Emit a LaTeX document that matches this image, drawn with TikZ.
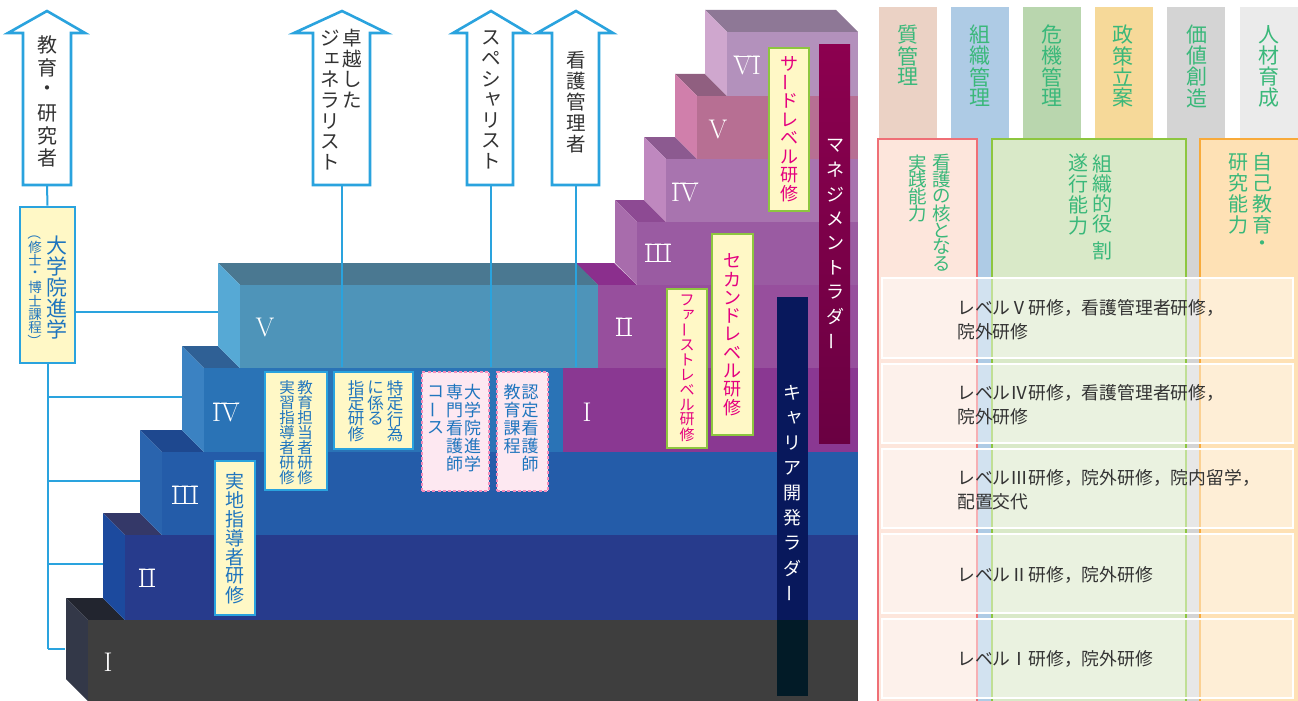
\documentclass[tikz,border=0pt]{standalone}
\usepackage{fontspec}
\usepackage{graphicx}
\newfontfamily\jp{Noto Sans CJK JP}
% colours
\definecolor{abl}{HTML}{2AA3DE}
\definecolor{tdark}{HTML}{333333}
\definecolor{yfill}{HTML}{FFF8C6}
\definecolor{gbor}{HTML}{8DC63F}
\definecolor{mag}{HTML}{E4007F}
\definecolor{btxt}{HTML}{1F75BE}
\definecolor{pdash}{HTML}{F28DBB}
\definecolor{pfill}{HTML}{FDE8F1}
\definecolor{jgreen}{HTML}{3AB87A}
\definecolor{hq}{HTML}{EBD2C5}
\definecolor{ho}{HTML}{AECBE5}
\definecolor{hr}{HTML}{B9D6AE}
\definecolor{hp}{HTML}{F6D999}
\definecolor{hv}{HTML}{D4D4D4}
\definecolor{hh}{HTML}{EBEBEB}
\definecolor{pkb}{HTML}{EF6F76}
\definecolor{pkf}{HTML}{FDE6DC}
\definecolor{grb}{HTML}{8DC63F}
\definecolor{grf}{HTML}{D9E9C8}
\definecolor{orb}{HTML}{F8AA3A}
\definecolor{orf}{HTML}{FEE1B5}
\definecolor{b5t}{HTML}{4A7891}\definecolor{b5s}{HTML}{56A9D5}\definecolor{b5f}{HTML}{4E94B9}
\definecolor{b4t}{HTML}{2F6095}\definecolor{b4s}{HTML}{3B82C2}\definecolor{b4f}{HTML}{2A73B6}
\definecolor{b3t}{HTML}{1E488F}\definecolor{b3s}{HTML}{2A64AE}\definecolor{b3f}{HTML}{245CA9}
\definecolor{b2t}{HTML}{343868}\definecolor{b2s}{HTML}{1C4A9E}\definecolor{b2f}{HTML}{273B8C}
\definecolor{b1t}{HTML}{22252F}\definecolor{b1s}{HTML}{333848}\definecolor{b1f}{HTML}{3E3E3E}
\definecolor{p6t}{HTML}{8E7896}\definecolor{p6s}{HTML}{CFA7CE}\definecolor{p6f}{HTML}{B391BC}
\definecolor{p5t}{HTML}{905F80}\definecolor{p5s}{HTML}{D07FAB}\definecolor{p5f}{HTML}{B76F93}
\definecolor{p4t}{HTML}{8C5A90}\definecolor{p4s}{HTML}{BF88BF}\definecolor{p4f}{HTML}{A874AF}
\definecolor{p3t}{HTML}{8D4A93}\definecolor{p3s}{HTML}{A86CAC}\definecolor{p3f}{HTML}{9A5BA2}
\definecolor{p2t}{HTML}{8B2F8D}\definecolor{p2f}{HTML}{974F9D}
\definecolor{p1f}{HTML}{8A3892}
\definecolor{mbt}{HTML}{8C004F}\definecolor{mbb}{HTML}{6A0042}
\definecolor{cbar}{HTML}{08185C}\definecolor{cbarb}{HTML}{021B27}

% vertical text
\newlength\vtpitch
\makeatletter
\newcommand\vt[2]{\vtop{\offinterlineskip\setlength\vtpitch{#1}\vt@a#2\relax}}
\def\vt@a#1{\ifx#1\relax\expandafter\@gobble\else\expandafter\vt@b\fi{#1}}
\def\vt@b#1{\ifx#1\VG\kern7pt\else\vt@c{#1}\fi\vt@a}
\newcommand\vt@c[1]{\hbox to 1em{\hss\vbox to\vtpitch{\vss\hbox{#1}\vss}\hss}}
\makeatother
\newcommand\VG{VG}
\newcommand\VL{\rotatebox[origin=c]{90}{ー}}
\newcommand\VPO{\rotatebox[origin=c]{-90}{（}}
\newcommand\VPC{\rotatebox[origin=c]{-90}{）}}
\newcommand\SKb[1]{\kern0.22em\raisebox{0.04em}{#1}}
\newcommand\SmYa{\SKb{ャ}}
\newcommand\SmE{\SKb{ェ}}
\newcommand\SmA{\SKb{ァ}}

% roman numerals with joined serifs
\newlength\rnw
\newcommand\RNtb[1]{\setbox0=\hbox{#1}\setlength\rnw{\wd0}\addtolength\rnw{-0.06em}%
  \kern0.03em\rlap{\rule{\rnw}{0.04em}}\rlap{\raisebox{\dimexpr\ht0-0.04em}{\rule{\rnw}{0.04em}}}\kern-0.03em\box0}
\newcommand\RNt[1]{\setbox0=\hbox{#1}\setlength\rnw{\wd0}\addtolength\rnw{-0.06em}%
  \kern0.03em\rlap{\raisebox{\dimexpr\ht0-0.04em}{\rule{\rnw}{0.04em}}}\kern-0.03em\box0}

\newcommand\blk[8]{%
  \fill[#6] ({#1-22},{#2-22}) -- ({#5-22},{#2-22}) -- (#5,#2) -- (#1,#2) -- cycle;
  \fill[#7] ({#1-22},{#2-22}) -- (#1,#2) -- (#1,#3) -- ({#1-22},{#3-22}) -- cycle;
  \fill[#8] (#1,#2) rectangle (#4,#3);}
\newcommand\uparr[6]{%
  \draw[arrshape] (#2,185) -- (#2,33) -- (#4,33) -- (#6,11) -- (#5,33) -- (#3,33) -- (#3,185) -- cycle;
  \coordinate (#1) at (#6,185);}

\tikzset{
  jt/.style={font={\jp\fontsize{#1}{#1}\selectfont}},
  vtx/.style={inner sep=0pt, outer sep=0pt, anchor=north},
  arrshape/.style={draw=abl, line width=2.6pt, fill=white, line join=miter},
  conn/.style={draw=abl, line width=2pt},
  ybox/.style={draw=abl, line width=2.6pt, fill=yfill, inner sep=0pt},
  gbox/.style={draw=gbor, line width=2.6pt, fill=yfill, inner sep=0pt},
  pbox/.style={draw=pdash, line width=1.8pt, dash pattern=on 3pt off 2.2pt, fill=pfill, inner sep=0pt},
  rowbox/.style={draw=white, line width=2.5pt, fill=white, fill opacity=0.45, inner sep=0pt,
    minimum width=411pt},
  rowtxt/.style={font={\jp\fontsize{17.8}{24}\selectfont}, text=tdark, align=left,
    anchor=west, inner sep=0pt},
  rn/.style={text=white, font=\fontsize{27}{27}\selectfont, inner sep=0pt},
}

\begin{document}
\begin{tikzpicture}[x=1pt,y=-1pt]
\useasboundingbox (0,0) rectangle (1298,701);
\clip (0,0) rectangle (1298,701);
\fill[white] (0,0) rectangle (1298,701);

% ---------- right panel ----------
\fill[hq] (879,7) rectangle (937,701);
\fill[ho] (951,7) rectangle (1009,701);
\fill[hr] (1023,7) rectangle (1081,701);
\fill[hp] (1095,7) rectangle (1153,701);
\fill[hv] (1167,7) rectangle (1225,701);
\fill[hh] (1240,7) rectangle (1298,701);
\node[vtx, jt=21, text=jgreen] (h1) at (908,24.5) {\vt{21pt}{質管理}};
\node[vtx, jt=21, text=jgreen] (h2) at (980,24.5) {\vt{21pt}{組織管理}};
\node[vtx, jt=21, text=jgreen] (h3) at (1052,24.5) {\vt{21pt}{危機管理}};
\node[vtx, jt=21, text=jgreen] (h4) at (1123,24.5) {\vt{21pt}{政策立案}};
\node[vtx, jt=21, text=jgreen] (h5) at (1197,24.5) {\vt{21pt}{価値創造}};
\node[vtx, jt=21, text=jgreen] (h6) at (1269,24.5) {\vt{21pt}{人材育成}};

\draw[line width=2pt, draw=pkb, fill=pkf] (878,139) rectangle (977,712);
\draw[line width=2pt, draw=grb, fill=grf] (992,139) rectangle (1186,712);
\draw[line width=2pt, draw=orb, fill=orf] (1200,139) rectangle (1312,712);
\node[vtx, jt=18.5, text=jgreen] (k1) at (930,154.6)
  {\hbox{\vt{16.8pt}{実践能力}\hspace{5.5pt}\vt{16.8pt}{看護の核となる}}};
\node[vtx, jt=20, text=jgreen] (k2) at (1090,152.5)
  {\hbox{\vt{21pt}{遂行能力}\hspace{4pt}\vt{20pt}{組織的役\VG 割}}};
\node[vtx, jt=20, text=jgreen] (k3) at (1250,151.5)
  {\hbox{\vt{21pt}{研究能力}\hspace{4pt}\vt{21pt}{自己教育・}}};

\node[rowbox, minimum height=80pt] (row1) at (1087.5,318) {};
\node[rowbox, minimum height=79pt] (row2) at (1087.5,403.5) {};
\node[rowbox, minimum height=79pt] (row3) at (1087.5,488.5) {};
\node[rowbox, minimum height=79pt] (row4) at (1087.5,573.5) {};
\node[rowbox, minimum height=79pt] (row5) at (1087.5,658.5) {};
\node[rowtxt] (rt1) at (957,320) {レベルⅤ研修，看護管理者研修，\\院外研修};
\node[rowtxt] (rt2) at (957,405) {レベルⅣ研修，看護管理者研修，\\院外研修};
\node[rowtxt] (rt3) at (957,490) {レベルⅢ研修，院外研修，院内留学，\\配置交代};
\node[rowtxt] (rt4) at (957,575) {レベルⅡ研修，院外研修};
\node[rowtxt] (rt5) at (957,659) {レベルⅠ研修，院外研修};

% ---------- purple (management) steps ----------
\fill[p1f] (563,368) rectangle (858,452);
\fill[p2t] (575,263) -- (614,263) -- (637,285) -- (598,285) -- cycle;
\fill[p2f] (598,285) rectangle (858,368);
\blk{637}{222}{285}{858}{666}{p3t}{p3s}{p3f}
\blk{666}{159}{222}{858}{697}{p4t}{p4s}{p4f}
\blk{697}{96}{159}{858}{727}{p5t}{p5s}{p5f}
\blk{727}{32}{96}{858}{858}{p6t}{p6s}{p6f}

% ---------- blue (career) steps ----------
\blk{88}{620}{701}{858}{125}{b1t}{b1s}{b1f}
\blk{125}{535}{620}{858}{162}{b2t}{b2s}{b2f}
\blk{162}{452}{535}{858}{204}{b3t}{b3s}{b3f}
\blk{204}{368}{452}{563}{240}{b4t}{b4s}{b4f}
\blk{240}{285}{368}{598}{598}{b5t}{b5s}{b5f}

% numerals
\node[rn] (n1) at (108,662) {I};
\node[rn] (n2) at (147,578) {\RNtb{II}};
\node[rn] (n3) at (185,495) {\RNtb{III}};
\node[rn] (n4) at (226,412) {\RNt{IV}};
\node[rn] (n5) at (265,327) {V};
\node[rn] (m1) at (587,412) {I};
\node[rn] (m2) at (624,327) {\RNtb{II}};
\node[rn] (m3) at (658,253) {\RNtb{III}};
\node[rn] (m4) at (685,192) {\RNt{IV}};
\node[rn] (m5) at (718,129) {V};
\node[rn] (m6) at (747,65) {\RNt{VI}};

% ---------- arrows ----------
\uparr{a1b}{23}{71}{8}{85}{47}
\uparr{a2b}{313}{370}{294}{387}{342}
\uparr{a3b}{467}{513}{453}{528}{491}
\uparr{a4b}{552}{599}{537}{613}{576}
\node[vtx, jt=20, text=tdark] (t1) at (47,34) {\vt{22.6pt}{教育・研究者}};
\node[vtx, jt=19.5, text=tdark] (t2) at (341,27.5)
  {\hbox{\vt{20.8pt}{ジ\SmE ネラリスト}\hspace{2.5pt}\vt{20.8pt}{卓越した}}};
\node[vtx, jt=19.5, text=tdark] (t3) at (491,28) {\vt{20.5pt}{スペシ\SmYa リスト}};
\node[vtx, jt=19.5, text=tdark] (t4) at (576,49.5) {\vt{21pt}{看護管理者}};

% ---------- left graduate box and connectors ----------
\node[ybox, minimum width=55pt, minimum height=156pt] (gs) at (47.5,285) {};
\node[vtx, jt=21, text=btxt] (gs1) at (57,235) {\vt{21pt}{大学院進学}};
\node[vtx, jt=13.5, text=btxt] (gs2) at (35,227) {\vt{13.4pt}{\VPO 修士・博士課程\VPC}};
\coordinate (sp) at (47.5,649);
\coordinate (bV) at (218,312);
\coordinate (bIV) at (182,397);
\coordinate (bIII) at (140,481);
\coordinate (bII) at (103,564);
\coordinate (bI) at (65,649);
\draw[conn] (a1b) -- (gs.north);
\draw[conn] (gs.south) -- (sp);
\draw[conn] (gs.east |- bV) -- (bV);
\draw[conn] (sp |- bIV) -- (bIV);
\draw[conn] (sp |- bIII) -- (bIII);
\draw[conn] (sp |- bII) -- (bII);
\draw[conn] (sp) -- (bI);
\coordinate (e2) at (342,367);
\coordinate (e3) at (491,367);
\coordinate (e4) at (576,367);
\draw[conn] (a2b) -- (e2);
\draw[conn] (a3b) -- (e3);
\draw[conn] (a4b) -- (e4);

% ---------- training boxes (blue) ----------
\node[ybox, minimum width=62pt, minimum height=118pt] (ky) at (296,431) {};
\node[vtx, jt=15.5, text=btxt] (kyt) at (296,380.5)
  {\hbox{\vt{15pt}{実習指導者研修}\hspace{2.5pt}\vt{15pt}{教育担当者研修}}};
\node[ybox, minimum width=79pt, minimum height=77pt] (tk) at (373.5,410.5) {};
\node[vtx, jt=16.5, text=btxt] (tkt) at (375.5,380)
  {\hbox{\vt{15.5pt}{指定研修}\hspace{3pt}\vt{15.5pt}{に係る}\hspace{3pt}\vt{15.5pt}{特定行為}}};
\node[pbox, minimum width=67pt, minimum height=119pt] (sn) at (455.5,431.5) {};
\node[vtx, jt=17, text=btxt] (snt) at (454,383)
  {\hbox{\vt{18pt}{コ\VL ス}\hspace{2pt}\vt{18pt}{専門看護師}\hspace{1pt}\vt{18pt}{大学院進学}}};
\node[pbox, minimum width=51pt, minimum height=119pt] (nn) at (522.5,431.5) {};
\node[vtx, jt=17, text=btxt] (nnt) at (521,383)
  {\hbox{\vt{18pt}{教育課程}\hspace{1pt}\vt{18pt}{認定看護師}}};
\node[ybox, minimum width=40pt, minimum height=154pt] (jc) at (235,538) {};
\node[vtx, jt=19, text=btxt] (jct) at (235,471.5) {\vt{19pt}{実地指導者研修}};

% ---------- ladders ----------
\node[inner sep=0pt, minimum width=31pt, minimum height=398pt, top color=mbt, bottom color=mbb]
  (mb) at (834.5,244) {};
\node[vtx, jt=18, text=white] (mbx) at (835,133) {\vt{24.5pt}{マネジメントラダ\VL}};
\node[inner sep=0pt, minimum width=31pt, minimum height=399pt, fill=cbar] (cb) at (792.5,496.5) {};
\fill[cbarb] (777,620) rectangle (808,696);
\node[vtx, jt=18, text=white] (cbx) at (792.5,380.5) {\vt{25pt}{キ\SmYa リア開発ラダ\VL}};

% ---------- level training boxes (magenta) ----------
\node[gbox, minimum width=40pt, minimum height=163pt] (sd) at (789,129.5) {};
\node[vtx, jt=18, text=mag] (sdt) at (789,55) {\vt{18.5pt}{サ\VL ドレベル研修}};
\node[gbox, minimum width=41pt, minimum height=201pt] (sc) at (732.5,334.5) {};
\node[vtx, jt=18, text=mag] (sct) at (732.5,252) {\vt{18.3pt}{セカンドレベル研修}};
\node[gbox, minimum width=40pt, minimum height=159pt] (fs) at (687,368.5) {};
\node[vtx, jt=15, text=mag] (fst) at (687,293) {\vt{14.9pt}{フ\SmA\VL ストレベル研修}};
\end{tikzpicture}
\end{document}
